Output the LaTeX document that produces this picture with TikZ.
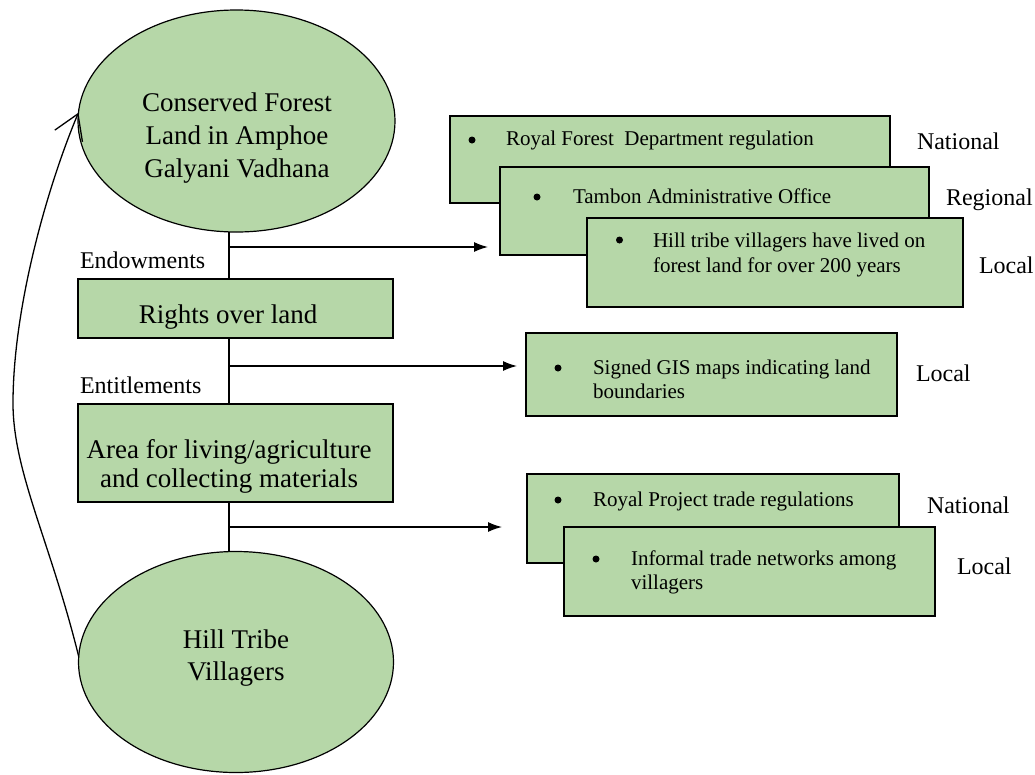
\documentclass[tikz,border=0pt]{standalone}
\usepackage{fontspec}
\setmainfont{Liberation Serif}
\usetikzlibrary{shapes.geometric,arrows.meta}
\definecolor{leaf}{HTML}{B6D7A8}

\begin{document}
\begin{tikzpicture}[x=1pt,y=-1pt,
  every node/.style={inner sep=0pt,outer sep=0pt},
  oval/.style={ellipse,draw,fill=leaf,line width=1.2pt},
  panel/.style={rectangle,draw,fill=leaf,line width=1.2pt,anchor=north west},
  big/.style={font=\fontsize{27}{33}\selectfont,align=center,anchor=base},
  item/.style={font=\fontsize{21}{24.5}\selectfont,align=left,anchor=base west},
  dot/.style={circle,fill=black,minimum size=7pt},
  tier/.style={font=\fontsize{24}{28}\selectfont,anchor=base west},
  conn/.style={line width=1.3pt},
  flow/.style={line width=1.3pt,-{Latex[length=14pt,width=10pt]}},
  cycle/.style={line width=1.3pt,-{Straight Barb[length=24pt,width=30pt]}}
]
\useasboundingbox (0,0) rectangle (1035,774);

% left column: resource, rights, uses, people
% (multi-line text nodes are anchored at the baseline of their last line)
\node[oval,minimum width=317pt,minimum height=222pt] (forest) at (236.5,121) {};
\node[big] (forestText) at (237,177) {Conserved Forest\\Land in Amphoe\\Galyani Vadhana};

\node[panel,minimum width=315pt,minimum height=59pt] (rights) at (78,279) {};
\node[big] (rightsText) at (228,323) {Rights over land};

\node[panel,minimum width=315pt,minimum height=98pt] (area) at (78,404) {};
\node[big,font=\fontsize{27}{29}\selectfont] (areaText) at (229,487) {Area for living/agriculture\\and collecting materials};

\node[oval,minimum width=315pt,minimum height=221pt] (tribe) at (236,662) {};
\node[big,font=\fontsize{27}{32}\selectfont] (tribeText) at (236,680) {Hill Tribe\\Villagers};

\node[tier] (endow) at (80,268) {Endowments};
\node[tier] (entitle) at (80,393) {Entitlements};

% spine through the left column
\coordinate (spine) at (229,0);
\draw[conn] (forest.south -| spine) -- (rights.north -| spine);
\draw[conn] (rights.south -| spine) -- (area.north -| spine);
\draw[conn] (area.south -| spine) -- (tribe.north -| spine);

% endowment institutions
\node[panel,minimum width=440pt,minimum height=87pt] (national1) at (450,116) {};
\node[dot] (dotA) at (472,140) {};
\node[item] (textA) at (506,145) {Royal Forest\ \ Department regulation};
\node[tier] (labA) at (917,149) {National};

\node[panel,minimum width=429pt,minimum height=88pt] (regional) at (500,167) {};
\node[dot] (dotB) at (537,197) {};
\node[item] (textB) at (573,203) {Tambon Administrative Office};
\node[tier] (labB) at (946,205) {Regional};

\node[panel,minimum width=376pt,minimum height=89pt] (local1) at (587,218) {};
\node[dot] (dotC) at (619.5,240) {};
\node[item] (textC) at (653,272) {Hill tribe villagers have lived on\\forest land for over 200 years};
\node[tier] (labC) at (979,273) {Local};

% entitlement institutions
\node[panel,minimum width=371pt,minimum height=83pt] (local2) at (526,333) {};
\node[dot] (dotD) at (558,368) {};
\node[item] (textD) at (593,398.5) {Signed GIS maps indicating land\\boundaries};
\node[tier] (labD) at (916,381) {Local};

% exchange institutions
\node[panel,minimum width=372pt,minimum height=89pt] (national3) at (527,474) {};
\node[dot] (dotE) at (558,500) {};
\node[item] (textE) at (593,506) {Royal Project trade regulations};
\node[tier] (labE) at (927,513) {National};

\node[panel,minimum width=371pt,minimum height=89pt] (local3) at (564,527) {};
\node[dot] (dotF) at (596,559) {};
\node[item] (textF) at (631,589.5) {Informal trade networks among\\villagers};
\node[tier] (labF) at (957,574) {Local};

% branches from the spine
\coordinate (tap1) at (229,247);
\coordinate (tap2) at (229,366);
\coordinate (tap3) at (229,527);
\draw[flow] (tap1) -- ([xshift=-12pt]regional.west |- tap1);
\draw[flow] (tap2) -- ([xshift=-9pt]local2.west |- tap2);
\draw[flow] (tap3) -- ([xshift=-25pt]national3.west |- tap3);

% feedback from villagers to the forest
\coordinate (bend) at (13,400);
\draw[cycle] (tribe.178) .. controls (50,540) and (12,470) .. (bend)
  .. controls (14,300) and (50,180) .. (forest.177);
\end{tikzpicture}
\end{document}
